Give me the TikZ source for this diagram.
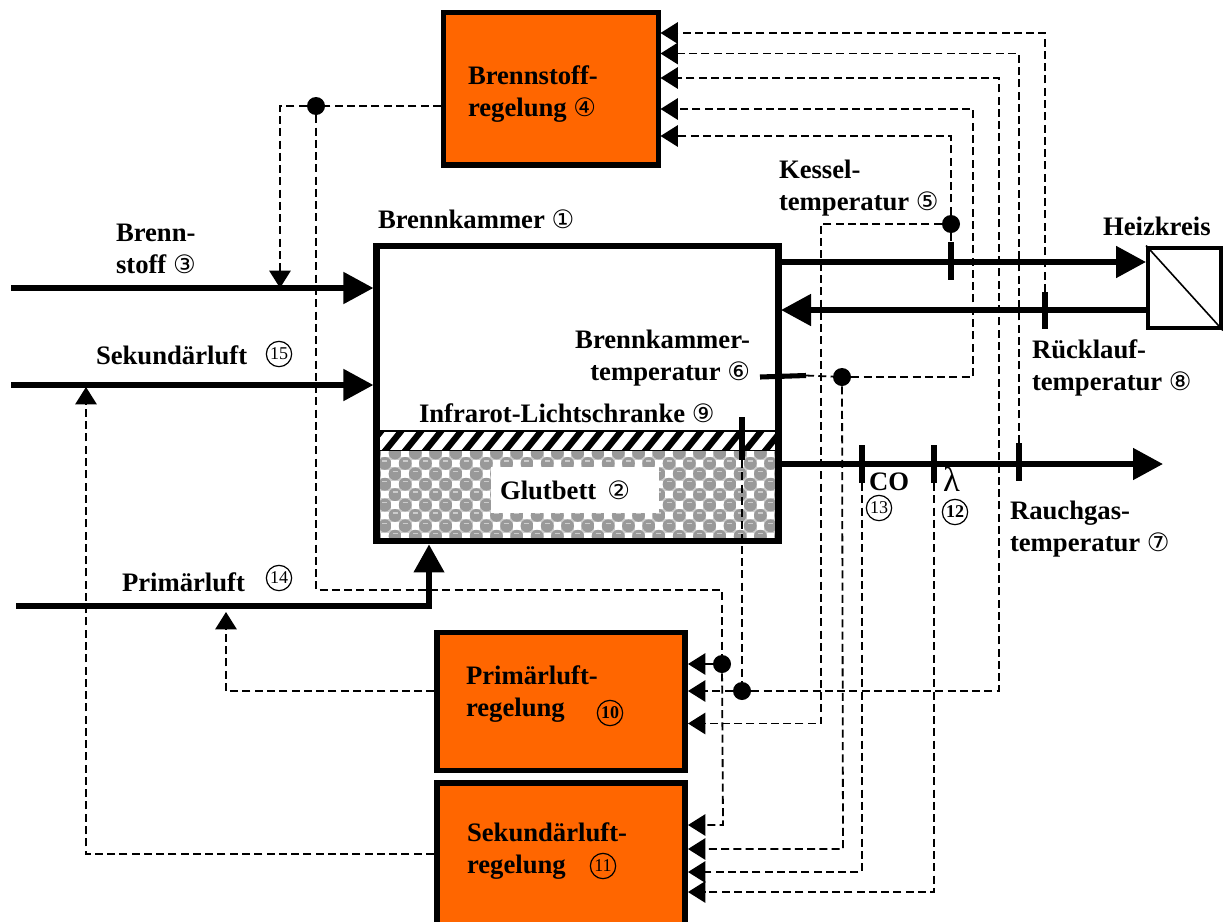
\documentclass[tikz,border=0pt]{standalone}
\usepackage{fontspec}
\setmainfont{Liberation Serif}
\newfontfamily\sym{DejaVu Sans}
\usetikzlibrary{arrows.meta}
\definecolor{ctrlorange}{HTML}{FF6600}
\definecolor{ballgrey}{HTML}{999999}
\newcommand{\cnum}[1]{{\sym\mdseries\fontsize{19}{20}\selectfont #1}}
\tikzset{
  lab/.style={font=\bfseries\fontsize{20}{24}\selectfont, anchor=base west, inner sep=0pt, outer sep=0pt, align=left},
  ctrlbox/.style={draw=black, fill=ctrlorange, line width=3.8pt, inner sep=0pt},
  flow/.style={line width=4.4pt},
  flowtip/.style={flow, -{Triangle[length=22.5pt,width=23pt]}},
  flowret/.style={flow, {Triangle[length=22.5pt,width=23pt]}-},
  tick/.style={line width=3.8pt},
  sig/.style={line width=1.35pt, dash pattern=on 6pt off 3.2pt},
  sigtip/.style={sig, -{Triangle[length=13pt,width=16pt,sep=0pt]}},
  junction/.style={circle, fill=black, inner sep=0pt, minimum size=13.5pt},
  numring/.style={circle, draw=black, line width=0.9pt, inner sep=0pt, minimum size=19pt, font=\fontsize{13.5}{14}\selectfont},
}
\begin{document}
\begin{tikzpicture}[x=0.75pt,y=-0.75pt]
\useasboundingbox (0,0) rectangle (1223,921);
\clip (0,0) rectangle (1223,921);
\fill[white] (0,0) rectangle (1223,921);

% ---- combustion chamber
\node[draw=black, line width=4.6pt, fill=white, minimum width=301.5pt, minimum height=221.6pt, inner sep=0pt] (kammer) at (577.5,393.5) {};
\begin{scope}
  \clip (380,450) rectangle (776,539);
  \fill[black!20] (380,450) rectangle (776,539);
  \foreach \i in {0,...,40}{
    \foreach \j in {0,...,9}{
      \pgfmathtruncatemacro\parity{mod(\i+\j,2)}
      \pgfmathsetmacro\cx{374.7+10.15*\i}
      \pgfmathsetmacro\cy{453+10.4*\j}
      \ifnum\parity=1
        \fill[white] (\cx-3.7,\cy-3.7) rectangle (\cx+3.7,\cy+3.7);
      \else
        \fill[ballgrey] (\cx,\cy) circle[radius=6.4];
        \draw[line width=1pt,white!80!black] (\cx-2.5,\cy-2.5) -- (\cx+2.5,\cy-2.5);
      \fi
    }
  }
\end{scope}
\begin{scope}
  \clip (380,431) rectangle (776,450);
  \foreach \k in {0,...,21}{
    \pgfmathsetmacro\sx{361+20*\k}
    \fill[black] (\sx,451) -- (\sx+8,451) -- (\sx+25,430) -- (\sx+17,430) -- cycle;
  }
\end{scope}
\draw[line width=1.4pt,black] (380,431) -- (776,431);
\draw[line width=1.4pt,black] (380,450.5) -- (776,450.5);
\node[fill=white, minimum width=126pt, minimum height=34.5pt, inner sep=0pt] (glutfeld) at (575,490) {};
\node[draw=black, line width=4.6pt, minimum width=301.5pt, minimum height=221.6pt, inner sep=0pt] (kammerrand) at (577.5,393.5) {};

% ---- controllers
\node[ctrlbox, minimum width=161.5pt, minimum height=114.7pt] (cbrenn) at (551,88.5) {};
\node[ctrlbox, minimum width=186pt, minimum height=104pt] (cprim) at (561,701.5) {};
\node[ctrlbox, minimum width=186pt, minimum height=108pt] (csek) at (561,855) {};

% ---- heat exchanger
\node[draw=black, line width=3.2pt, fill=white, minimum width=54.5pt, minimum height=60.5pt, inner sep=0pt] (heiz) at (1184.5,288) {};
\draw[line width=1.2pt] (heiz.north west) -- (heiz.south east);

% ---- free ends
\coordinate (brin) at (11,288);
\coordinate (sekin) at (11,385);
\coordinate (priin) at (16,606);
\coordinate (priknee) at (429,606);
\coordinate (gasout) at (1163,464);
\coordinate (vorl) at (781,262);
\coordinate (rueck) at (781,310);
\coordinate (gasin) at (781,464);

% ---- thick flows
\draw[flowtip] (brin) -- (brin -| kammer.west);
\draw[flowtip] (sekin) -- (sekin -| kammer.west);
\draw[flow,-{Triangle[length=21pt,width=22pt]}] (priin) -- (priknee) -- (priknee |- kammer.south);
\draw[flowtip] (vorl) -- (vorl -| heiz.west);
\draw[flowret] (rueck) -- (rueck -| heiz.west);
\draw[flowtip] (gasin) -- (gasout);

% ---- sensor ticks
\coordinate (kt) at (951,242); \coordinate (kb) at (951,280);
\coordinate (rt) at (1045,292); \coordinate (rb) at (1045,329);
\coordinate (gt) at (1019,443); \coordinate (gb) at (1019,481);
\coordinate (cot) at (862,445); \coordinate (cob) at (862,483);
\coordinate (lt) at (934,445); \coordinate (lb) at (934,483);
\coordinate (it) at (742,417); \coordinate (ib) at (742,460);
\coordinate (bl) at (760,377); \coordinate (br) at (806,375.5);
\foreach \a/\b in {kt/kb,rt/rb,gt/gb,cot/cob,lt/lb,it/ib,bl/br}{\draw[tick] (\a) -- (\b);}

% ---- junctions
\node[junction] (jbrenn) at (316,106) {};
\node[junction] (jkessel) at (951,224) {};
\node[junction] (jkammer) at (842,377) {};
\node[junction] (jprim) at (722,664) {};
\node[junction] (jir) at (742,691) {};

% ---- inputs at controllers
\coordinate (b1) at (660.5,33); \coordinate (b2) at (660.5,53.5); \coordinate (b3) at (660.5,78);
\coordinate (b4) at (660.5,109); \coordinate (b5) at (660.5,136);
\coordinate (p1) at (688,664); \coordinate (p2) at (688,691); \coordinate (p3) at (688,723.5);
\coordinate (s1) at (688,825); \coordinate (s2) at (688,849); \coordinate (s3) at (688,872); \coordinate (s4) at (688,892);
\coordinate (sekaus) at (434,854);
\coordinate (ptip) at (226,612);
\coordinate (stip) at (86,387);

% ---- signals to fuel controller
\draw[sigtip] (rt) |- (b1);
\draw[sigtip] (gt) |- (b2);
\draw[sigtip] (jir) -- (999,691) |- (b3);
\draw[sigtip] (jkammer) -- (973,377) |- (b4);
\draw[sigtip] (jkessel) |- (b5);
\draw[sig] (jkessel) -- (kt);
\draw[sig] (br) -- (jkammer);
% ---- signals to air controllers
\draw[sigtip] (jkessel) -- (821,224) |- (p3);
\draw[sigtip] (jir) -- (p2);
\draw[sig] (ib) -- (jir);
\draw[sigtip] (jprim) -- (p1);
\draw[sig] (jbrenn) -- (316,590) -| (jprim);
\draw[sigtip] (jprim) -- (723,825) -- (s1);
\draw[sigtip] (jkammer) -- (843,849) -- (s2);
\draw[sigtip] (cob) |- (s3);
\draw[sigtip] (lb) |- (s4);
% ---- actuating signals
\draw[sig] (cbrenn.west |- jbrenn) -- (jbrenn);
\draw[sigtip] (jbrenn) -- (280,106) -- (280,288);
\draw[sigtip] (cprim.west |- jir) -- (226,691) -- (ptip);
\draw[sigtip] (sekaus) -- (86,854) -- (stip);

% ---- labels
\node[lab] (lbrennst) at (116,273) {Brenn-\\stoff \cnum{③}};
\node[lab] (lsek) at (96,364) {Sekundärluft};
\node[numring] (n15) at (279,354) {15};
\node[lab] (lkammer) at (378,228) {Brennkammer \cnum{①}};
\node[lab] (lkessel) at (779,210) {Kessel-\\temperatur \cnum{⑤}};
\node[lab] (lheiz) at (1103,235) {Heizkreis};
\node[lab] (lrueck) at (1032,390) {Rücklauf-\\temperatur \cnum{⑧}};
\node[lab, anchor=base east, align=right] (lbkt) at (750,380) {Brennkammer-\\temperatur \cnum{⑥}};
\node[lab] (lir) at (419,422) {Infrarot-Lichtschranke \cnum{⑨}};
\node[lab] (lglut) at (500,499) {Glutbett\, \cnum{②}};
\node[lab] (lco) at (869,490) {CO};
\node[lab, font=\fontsize{26}{28}\selectfont] (llam) at (943,491) {λ};
\node[numring] (n13) at (879,508) {13};
\node[numring, font=\bfseries\fontsize{13.5}{14}\selectfont] (n12) at (955,512) {12};
\node[lab] (lgas) at (1010,551) {Rauchgas-\\temperatur \cnum{⑦}};
\node[lab] (lprim) at (122,591) {Primärluft};
\node[numring] (n14) at (279,578) {14};
\node[lab] (lcb) at (468,116) {Brennstoff-\\regelung \cnum{④}};
\node[lab] (lcp) at (466,716) {Primärluft-\\regelung};
\node[numring, font=\bfseries\fontsize{13.5}{14}\selectfont] (n10) at (610,713) {10};
\node[lab] (lcs) at (467,873) {Sekundärluft-\\regelung};
\node[numring] (n11) at (603,866) {11};
\end{tikzpicture}
\end{document}
